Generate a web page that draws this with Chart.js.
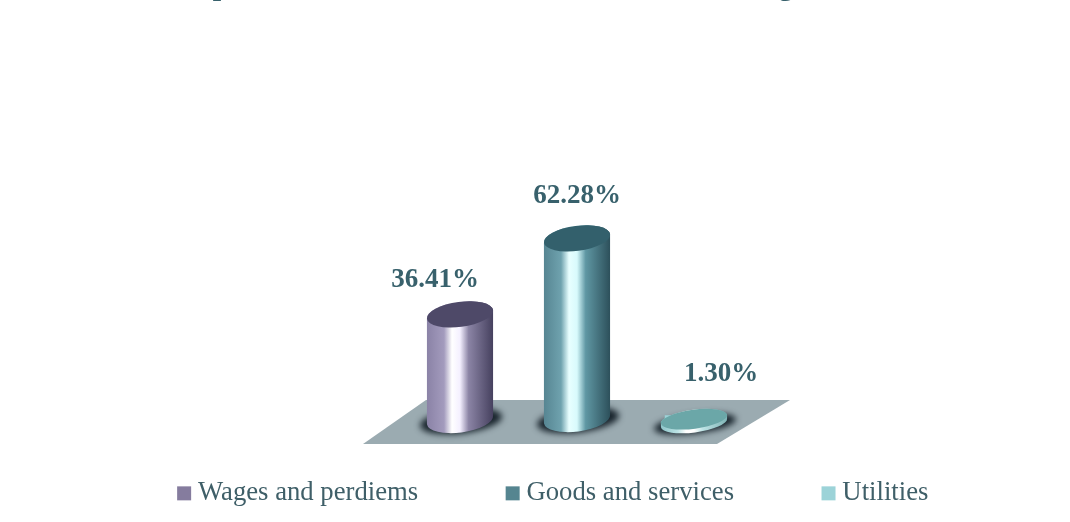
<!DOCTYPE html>
<html>
<head>
<meta charset="utf-8">
<style>
  html, body { margin: 0; padding: 0; background: #ffffff; overflow: hidden; }
  canvas { display: block; }
</style>
<script src="https://cdn.jsdelivr.net/npm/chart.js@4/dist/chart.umd.min.js"></script>
</head>
<body>
<canvas id="chart" width="1070" height="522"></canvas>
<script>
const categories = ['Share of expenditure'];
const seriesNames = ['Wages and perdiems', 'Goods and services', 'Utilities'];
const seriesValues = [36.41, 62.28, 1.30];
const legendColors = ['#857C9E', '#558590', '#9CD3D8'];
const capColors = ['#4E4968', '#33606C', '#6BA7A8'];
const edgeStops = [
  ['#8A82A6', '#A39BBD', '#FFFFFF', '#F4F0FF', '#8B84A5', '#45405E'],
  ['#568592', '#6FA2AE', '#E8FFFF', '#D8FAFC', '#5F97A3', '#2C4F5A'],
  ['#8CC4C8', '#BDE3E5', '#FFFFFF', '#FFFFFF', '#BDE3E5', '#7FB4B6']
];
const labelShift = [-25, 0, 27];
const labelLift = [33, 42, 41];
const capRadiusY = [12.5, 12.5, 9.5];
const discDrop = [1, 0, 4];
const titleFragments = ['p', 'g'];

const SERIF = '"Liberation Serif", "Times New Roman", serif';
const INK = '#38616C';

// Horizontal shading across a cylinder's width.
function sideGradient(ctx, left, right, stops) {
  const g = ctx.createLinearGradient(left, 0, right, 0);
  const at = [0, 0.26, 0.38, 0.5, 0.63, 1];
  stops.forEach((c, i) => g.addColorStop(at[i], c));
  return g;
}

const floorAndCylinders = {
  id: 'floorAndCylinders',
  afterLayout(chart) {
    // The wide item spacing also pads the legend vertically; pull the row back up.
    chart.legend.top -= 33;
  },
  beforeDatasetsDraw(chart) {
    const { ctx, chartArea } = chart;
    const b = chartArea.bottom;
    ctx.save();
    ctx.fillStyle = '#9BABB1';
    ctx.beginPath();
    ctx.moveTo(426, b - 19);
    ctx.lineTo(790, b - 19);
    ctx.lineTo(717, b + 25);
    ctx.lineTo(363, b + 25);
    ctx.closePath();
    ctx.fill();
    // Soft contact shadows under each cylinder
    chart.data.datasets.forEach((d, i) => {
      const el = chart.getDatasetMeta(i).data[0];
      const rx = el.width * 0.57;
      ctx.save();
      ctx.filter = 'blur(3px)';
      ctx.fillStyle = 'rgba(18,30,38,0.95)';
      ctx.beginPath();
      ctx.ellipse(el.x + 1, el.base + discDrop[i] + 1, rx + 8, capRadiusY[i], -0.12, 0, Math.PI * 2);
      ctx.fill();
      ctx.restore();
    });
    ctx.restore();
  },
  afterDatasetsDraw(chart) {
    const { ctx } = chart;
    chart.data.datasets.forEach((d, i) => {
      const el = chart.getDatasetMeta(i).data[0];
      const rx = el.width * 0.57, ry = capRadiusY[i], tilt = -0.13;
      const topY = el.y + discDrop[i], baseY = el.base + discDrop[i];
      ctx.save();
      ctx.fillStyle = sideGradient(ctx, el.x - rx, el.x + rx, edgeStops[i]);
      ctx.beginPath();
      ctx.ellipse(el.x, baseY, rx, ry, tilt, 0, Math.PI);
      ctx.ellipse(el.x, topY, rx, ry, tilt, Math.PI, Math.PI * 2);
      ctx.closePath();
      ctx.fill();
      ctx.fillStyle = capColors[i];
      ctx.beginPath();
      ctx.ellipse(el.x, topY, rx, ry, tilt, 0, Math.PI * 2);
      ctx.fill();
      // Value label above the cylinder
      ctx.fillStyle = INK;
      ctx.font = 'bold 27px ' + SERIF;
      ctx.textAlign = 'center';
      ctx.textBaseline = 'middle';
      ctx.fillText(seriesValues[i].toFixed(2) + '%', el.x + labelShift[i], el.y - labelLift[i]);
      ctx.restore();
    });
  },
  afterDraw(chart) {
    // Descenders of the heading that runs off the top edge
    const { ctx } = chart;
    ctx.save();
    ctx.fillStyle = INK;
    ctx.font = 'bold 30px ' + SERIF;
    ctx.textBaseline = 'alphabetic';
    ctx.textAlign = 'center';
    ctx.fillText(titleFragments[0], 221, -5);
    ctx.fillText(titleFragments[1], 786, -5);
    ctx.restore();
  }
};

new Chart(document.getElementById('chart'), {
  type: 'bar',
  plugins: [floorAndCylinders],
  data: {
    labels: categories,
    datasets: seriesNames.map((name, i) => ({
      label: name,
      data: [seriesValues[i]],
      backgroundColor: legendColors[i],
      borderWidth: 0,
      barPercentage: 0.5,
      categoryPercentage: 351 / 986
    }))
  },
  options: {
    responsive: false,
    animation: false,
    layout: { padding: { left: 42, right: 0, top: 129, bottom: 0 } },
    scales: {
      x: { display: false },
      y: {
        min: 0,
        max: 100,
        afterFit(scale) { scale.width = 42; },
        grid: { display: false },
        border: { display: false },
        ticks: { display: false }
      }
    },
    plugins: {
      title: { display: false },
      tooltip: { enabled: false },
      legend: {
        position: 'bottom',
        maxHeight: 103,
        labels: {
          usePointStyle: true,
          pointStyle: 'rect',
          boxWidth: 1,
          boxHeight: 14,
          padding: 94,
          color: '#3F5F68',
          font: { family: SERIF, size: 26.7 }
        }
      }
    }
  }
});
</script>
</body>
</html>
